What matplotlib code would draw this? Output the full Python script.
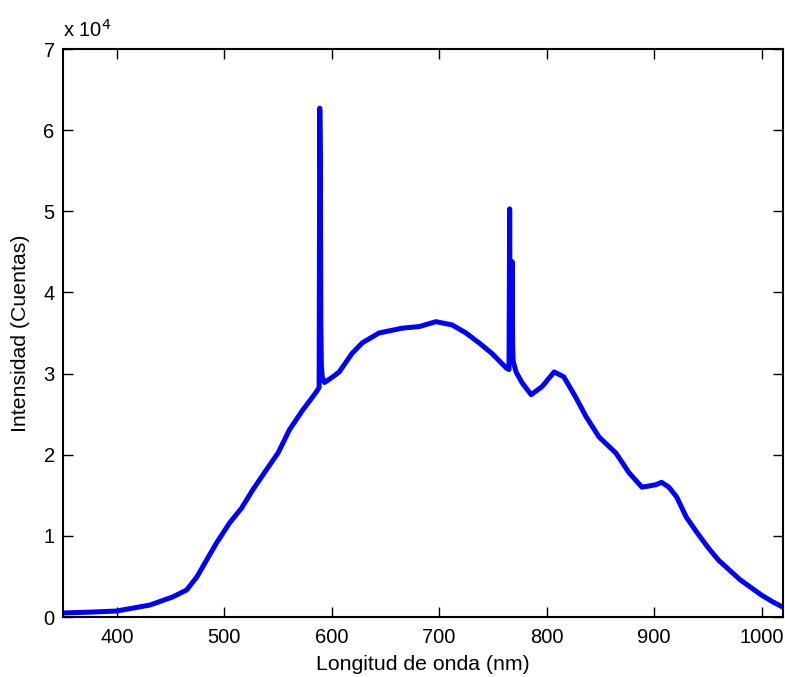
import matplotlib
matplotlib.use("Agg")
import matplotlib.pyplot as plt

wavelength_nm = [350, 375, 400, 431, 452, 465, 474.5, 482, 492.7, 505, 516, 526.7, 539, 550,
                 560.8, 573, 581, 586, 588.3, 588.9, 589.5, 589.9, 590.4,
                 591.2, 593.3, 600, 607, 619, 628.6, 644, 665.8, 681.6, 697, 712, 725, 737,
                 749, 762.4, 765.0, 765.6, 766.1, 766.7, 767.3, 767.9, 768.4, 768.9, 771.6,
                 777, 785.6, 795.8, 807, 816, 827, 836.7, 848.7, 864.5, 876.6, 888.7, 901.7,
                 907, 913.8, 921, 930, 940, 950, 960, 980, 1000, 1010, 1020]
counts = [500, 600, 740, 1480, 2470, 3330, 4930, 6650, 9100, 11600, 13400, 15700, 18100,
          20200, 23100, 25500, 26900, 27800, 28300, 62700, 56000,
          36000, 31000, 29600, 28900, 29500, 30200, 32500, 33800, 35000, 35600, 35800,
          36400, 36000, 35000, 33800, 32500, 30700, 30500, 50300, 33500, 32500, 33000,
          43800, 33500, 31500, 30200, 28900, 27400, 28400, 30200, 29600, 27100, 24700,
          22200, 20200, 17800, 16000, 16300, 16600, 16000, 14800, 12300, 10400, 8600,
          7000, 4600, 2700, 1900, 1200]

x_ticks = [400, 500, 600, 700, 800, 900, 1000]
y_ticks = [0, 1, 2, 3, 4, 5, 6, 7]
y_scale = 1e4

plt.rcParams['font.family'] = ['Liberation Sans', 'DejaVu Sans']

fig = plt.figure(figsize=(7.85, 6.77), dpi=100)
ax = fig.add_axes([0.0803, 0.0886, 0.9172, 0.839])

ax.plot(wavelength_nm, counts, color='#0000ff', lw=3.6, solid_joinstyle='round')

ax.set_xlim(350, 1020)
ax.set_ylim(0, 7e4)
ax.set_xticks(x_ticks)
ax.set_xticklabels([str(t) for t in x_ticks])
ax.set_yticks([t * y_scale for t in y_ticks])
ax.set_yticklabels([str(t) for t in y_ticks])
ax.tick_params(direction='in', length=7, width=1, top=True, right=True, labelsize=14.5)
ax.tick_params(axis='x', pad=8)
ax.tick_params(axis='y', pad=6)
for s in ax.spines.values():
    s.set_linewidth(1.5)

ax.set_xlabel('Longitud de onda (nm)', fontsize=15.3, labelpad=6)
ax.set_ylabel('Intensidad (Cuentas)', fontsize=15.3, labelpad=10)
ax.text(0.0, 1.014, r'x 10$^{4}$', transform=ax.transAxes, fontsize=14.5,
        ha='left', va='bottom')

fig.savefig('out.png', dpi=100)
